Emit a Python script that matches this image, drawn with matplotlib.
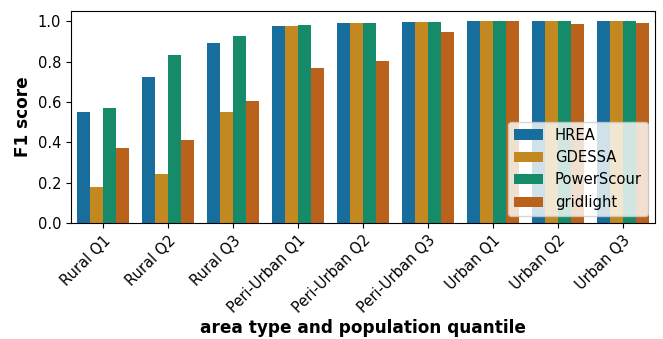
import matplotlib
matplotlib.use("Agg")
import matplotlib.pyplot as plt
import pandas as pd
import seaborn as sns

categories = ["Rural Q1", "Rural Q2", "Rural Q3", "Peri-Urban Q1", "Peri-Urban Q2",
              "Peri-Urban Q3", "Urban Q1", "Urban Q2", "Urban Q3"]
methods = ["HREA", "GDESSA", "PowerScour", "gridlight"]

hrea = [0.550, 0.726, 0.891, 0.979, 0.990, 0.995, 1.000, 1.000, 1.000]
gdessa = [0.178, 0.243, 0.548, 0.975, 0.989, 0.998, 1.000, 1.000, 1.000]
powerscour = [0.568, 0.835, 0.927, 0.984, 0.990, 0.998, 1.000, 1.000, 1.000]
gridlight = [0.371, 0.412, 0.607, 0.766, 0.805, 0.949, 1.000, 0.988, 0.991]

rows = []
for name, vals in zip(methods, [hrea, gdessa, powerscour, gridlight]):
    for cat, v in zip(categories, vals):
        rows.append({"area": cat, "method": name, "f1": v})
df = pd.DataFrame(rows)

fig, ax = plt.subplots(figsize=(6.63, 3.39), dpi=100)
sns.barplot(data=df, x="area", y="f1", hue="method", palette="colorblind",
            saturation=0.75, ax=ax)
ax.set_ylim(0, 1.05)
ax.set_xlabel("area type and population quantile", fontweight="bold", fontsize=12.2)
ax.set_ylabel("F1 score", fontweight="bold", fontsize=12.2)
ax.tick_params(labelsize=10.5)
plt.setp(ax.get_xticklabels(), rotation=45, ha="right", rotation_mode="anchor")
ax.xaxis.set_label_coords(0.5, -0.455)
ax.legend(loc="lower right", fontsize=10.6)
fig.subplots_adjust(left=0.107, right=0.988, top=0.967, bottom=0.342)
fig.savefig("out.png")
